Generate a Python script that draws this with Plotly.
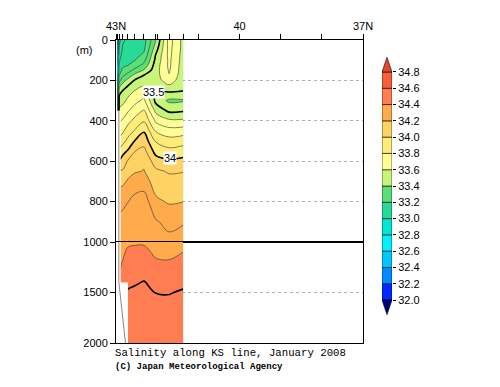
import plotly.graph_objects as go

# ---------------- data ----------------
station_lat = [42.97, 42.92, 42.84, 42.71, 42.54, 42.32, 42.03, 41.71, 41.37]
depths = [0, 25, 50, 75, 100, 125, 150, 175, 200, 250, 300, 350, 400, 450, 500,
          550, 600, 650, 700, 800, 900, 1000, 1100, 1200, 1300, 1400, 1500, 1600, 1800, 2000]

sal_st1 = [32.50, 32.60, 32.70, 32.80, 32.88, 32.90, 32.92, 32.94, 32.95, 32.97, 33.00, 33.10, 33.60, 33.70, 33.80,
           33.90, 34.01, 34.08, 34.15, 34.25, 34.32, 34.37, 34.39, 34.41, 34.43, 34.45, 34.48, 34.51, 34.52, 34.54]
sal_st2 = [32.95, 33.00, 33.03, 33.06, 33.09, 33.12, 33.15, 33.20, 33.27, 33.45, 33.55, 33.62, 33.69, 33.76, 33.83,
           33.92, 34.01, 34.11, 34.17, 34.26, 34.33, 34.37, 34.38, 34.39, 34.398, 34.41, 34.46, 34.51, 34.52, 34.54]
sal_st3 = [33.08, 33.10, 33.11, 33.13, 33.15, 33.18, 33.22, 33.28, 33.36, 33.498, 33.57, 33.64, 33.71, 33.78, 33.86,
           33.97, 34.04, 34.11, 34.18, 34.27, 34.34, 34.38, 34.39, 34.402, 34.42, 34.44, 34.48, 34.51, 34.52, 34.54]
sal_st4 = [33.12, 33.13, 33.14, 33.15, 33.17, 33.20, 33.26, 33.34, 33.43, 33.56, 33.62, 33.69, 33.77, 33.85, 33.93,
           34.01, 34.11, 34.17, 34.21, 34.298, 34.35, 34.39, 34.41, 34.43, 34.45, 34.48, 34.51, 34.52, 34.54, 34.55]
sal_st5 = [33.14, 33.19, 33.20, 33.17, 33.20, 33.25, 33.33, 33.43, 33.51, 33.60, 33.67, 33.75, 33.83, 33.91, 34.005,
           34.098, 34.15, 34.19, 34.25, 34.33, 34.36, 34.39, 34.42, 34.44, 34.46, 34.49, 34.52, 34.53, 34.54, 34.55]
sal_st6 = [33.16, 33.17, 33.19, 33.22, 33.27, 33.33, 33.41, 33.505, 33.55, 33.64, 33.72, 33.81, 33.89, 33.99, 34.06,
           34.13, 34.18, 34.205, 34.25, 34.35, 34.37, 34.39, 34.42, 34.44, 34.47, 34.505, 34.52, 34.53, 34.54, 34.55]
sal_st7 = [33.40, 33.43, 33.47, 33.51, 33.53, 33.55, 33.56, 33.56, 33.55, 33.505, 33.47, 33.57, 33.68, 33.79, 33.89,
           33.96, 34.05, 34.12, 34.15, 34.22, 34.31, 34.35, 34.385, 34.41, 34.44, 34.47, 34.498, 34.52, 34.54, 34.55]
sal_st8 = [33.74, 33.74, 33.73, 33.73, 33.72, 33.72, 33.71, 33.695, 33.66, 33.52, 33.38, 33.48, 33.62, 33.74, 33.84,
           33.93, 34.02, 34.09, 34.13, 34.19, 34.27, 34.33, 34.37, 34.41, 34.44, 34.47, 34.495, 34.52, 34.54, 34.55]
sal_st9 = [33.57, 33.57, 33.57, 33.56, 33.56, 33.55, 33.55, 33.54, 33.53, 33.505, 33.39, 33.49, 33.62, 33.75, 33.86,
           33.95, 34.03, 34.095, 34.14, 34.198, 34.29, 34.35, 34.401, 34.43, 34.45, 34.48, 34.51, 34.53, 34.54, 34.55]
profiles = [sal_st1, sal_st2, sal_st3, sal_st4, sal_st5, sal_st6, sal_st7, sal_st8, sal_st9]

# colour levels of the key
levels = [32.0, 32.2, 32.4, 32.6, 32.8, 33.0, 33.2, 33.4, 33.6, 33.8, 34.0, 34.2, 34.4, 34.6, 34.8]
band_colors = ['#0028ff', '#008cff', '#00c8ff', '#00f0ff', '#00e6d2', '#28da98', '#5ade78',
               '#c8f578', '#ffff96', '#ffeb78', '#ffd264', '#ffaa4b', '#ff7d50', '#fa5f3c']
under_color = '#000078'
over_color = '#e6462d'
thick_levels = [33.5, 34.0, 34.5]
contour_labels = ['33.5', '34']
label_lat = [42.10, 41.69]
label_depth = [257, 585]

# bottom topography / no-data area
mask_top_lat = [43.0, 42.886, 42.886, 43.0]
mask_top_depth = [350, 350, 1000, 1000]
mask_bot_lat = [43.0, 42.886, 42.886, 42.709, 42.709, 43.0]
mask_bot_depth = [1000, 1000, 1400, 1400, 2000, 2000]
topo_top_lat = [42.93, 42.93]
topo_top_depth = [350, 1000]
topo_bot_lat = [42.93, 42.93, 42.77]
topo_bot_depth = [1000, 1400, 2000]

lat_ticks = [43, 42, 41, 40, 39, 38, 37]
lat_ticktext = ['43N', '', '', '40', '', '', '37N']

# ---------------- figure ----------------
W, H = 500, 387
def px_x(p):
    return p / W
def px_y(p):
    return 1 - p / H

z_all = [[profiles[j][i] for j in range(len(station_lat))] for i in range(len(depths))]
top_idx = [i for i, d in enumerate(depths) if d <= 1000]
bot_idx = [i for i, d in enumerate(depths) if d >= 1000]
d_top = [depths[i] for i in top_idx]
d_bot = [depths[i] for i in bot_idx]
z_top = [z_all[i] for i in top_idx]
z_bot = [z_all[i] for i in bot_idx]

# stepwise colourscale (plotly maps fill colours from start-size/2 to end+size/2)
c_lo, c_hi = 31.95, 34.85
def pos(v):
    return (v - c_lo) / (c_hi - c_lo)
cs = [[0.0, under_color], [pos(levels[0]), under_color]]
for k, col in enumerate(band_colors):
    cs.append([pos(levels[k]), col])
    cs.append([pos(levels[k + 1]), col])
cs.append([pos(levels[-1]), over_color])
cs.append([1.0, over_color])

fig = go.Figure()

for xa, ya, dd, zz in [('x', 'y', d_top, z_top), ('x2', 'y2', d_bot, z_bot)]:
    fig.add_trace(go.Contour(
        x=station_lat, y=dd, z=zz, xaxis=xa, yaxis=ya,
        colorscale=cs, showscale=False, hoverinfo='skip',
        contours=dict(start=levels[0], end=levels[-1], size=0.1, coloring='fill', showlines=True),
        line=dict(color='#303030', width=0.6)))
    fig.add_trace(go.Contour(
        x=station_lat, y=dd, z=zz, xaxis=xa, yaxis=ya,
        showscale=False, hoverinfo='skip',
        contours=dict(start=thick_levels[0], end=thick_levels[-1], size=0.5, coloring='none'),
        line=dict(color='black', width=1.6)))

fig.add_trace(go.Scatter(x=mask_top_lat, y=mask_top_depth, xaxis='x', yaxis='y', fill='toself',
                         fillcolor='white', line=dict(width=0), mode='lines', hoverinfo='skip'))
fig.add_trace(go.Scatter(x=mask_bot_lat, y=mask_bot_depth, xaxis='x2', yaxis='y2', fill='toself',
                         fillcolor='white', line=dict(width=0), mode='lines', hoverinfo='skip'))
fig.add_trace(go.Scatter(x=topo_top_lat, y=topo_top_depth, xaxis='x', yaxis='y', mode='lines',
                         line=dict(color='#888888', width=1), hoverinfo='skip'))
fig.add_trace(go.Scatter(x=topo_bot_lat, y=topo_bot_depth, xaxis='x2', yaxis='y2', mode='lines',
                         line=dict(color='#888888', width=1), hoverinfo='skip'))

# colour key
nb = len(band_colors)
fig.add_trace(go.Bar(x=[0] * nb, y=[levels[k + 1] - levels[k] for k in range(nb)], base=levels[:-1],
                     width=1, marker=dict(color=band_colors, line=dict(color='black', width=0.6)),
                     xaxis='x3', yaxis='y3', hoverinfo='skip'))
fig.add_trace(go.Scatter(x=[-0.5, 0.5, 0, -0.5], y=[levels[-1], levels[-1], levels[-1] + 0.18, levels[-1]],
                         fill='toself', fillcolor=over_color, mode='lines', line=dict(color='black', width=0.6),
                         xaxis='x3', yaxis='y3', hoverinfo='skip'))
fig.add_trace(go.Scatter(x=[-0.5, 0.5, 0, -0.5], y=[levels[0], levels[0], levels[0] - 0.18, levels[0]],
                         fill='toself', fillcolor=under_color, mode='lines', line=dict(color='black', width=0.6),
                         xaxis='x3', yaxis='y3', hoverinfo='skip'))

axis_common = dict(showline=True, linecolor='black', linewidth=1, mirror=True, zeroline=False,
                   ticks='outside', ticklen=5, tickcolor='black', tickwidth=1)
xdom = [px_x(116), px_x(363)]
fig.update_layout(
    width=W, height=H, margin=dict(l=0, r=0, t=0, b=0),
    paper_bgcolor='white', plot_bgcolor='white', showlegend=False, barmode='overlay',
    font=dict(family='Liberation Sans, Arial, sans-serif', size=11, color='black'),
    xaxis=dict(domain=xdom, range=[43, 37], side='top', anchor='y',
               tickvals=lat_ticks + station_lat, ticktext=lat_ticktext + [''] * len(station_lat),
               showgrid=False, automargin=False, **axis_common),
    xaxis2=dict(domain=xdom, range=[43, 37], anchor='y2', matches='x', showticklabels=False,
                showgrid=False, automargin=False,
                **{**axis_common, 'ticks': ''}),
    yaxis=dict(domain=[px_y(242), px_y(40)], range=[1000, 0], anchor='x',
               tickvals=[0, 200, 400, 600, 800, 1000], showgrid=True, gridcolor='#b0b0b0',
               griddash='dot', gridwidth=1, automargin=False, **axis_common),
    yaxis2=dict(domain=[px_y(343), px_y(242)], range=[2000, 1000], anchor='x2',
                tickvals=[1500, 2000], showgrid=True, gridcolor='#b0b0b0',
                griddash='dot', gridwidth=1, automargin=False, **axis_common),
    xaxis3=dict(domain=[px_x(382), px_x(392)], range=[-0.5, 0.5], anchor='y3', visible=False),
    yaxis3=dict(domain=[px_y(316.3), px_y(55.7)], range=[levels[0] - 0.2, levels[-1] + 0.2], anchor='x3',
                side='right', tickvals=levels, ticktext=['%.1f' % v for v in levels],
                ticks='outside', ticklen=3, tickcolor='black', showgrid=False, zeroline=False,
                showline=False, automargin=False),
)

annotations = []
for t, la, de in zip(contour_labels, label_lat, label_depth):
    annotations.append(dict(x=la, y=de, xref='x', yref='y', text=t, showarrow=False,
                            bgcolor='white', borderpad=0, font=dict(size=11, color='black')))
annotations.append(dict(x=px_x(74), y=px_y(42), xref='paper', yref='paper', text='(m)', showarrow=False,
                        font=dict(size=11)))
annotations.append(dict(x=px_x(113), y=px_y(353), xref='paper', yref='paper', xanchor='left', yanchor='middle',
                        text='Salinity along KS line, January 2008', showarrow=False,
                        font=dict(family='Liberation Mono, monospace', size=10.7)))
annotations.append(dict(x=px_x(113), y=px_y(367), xref='paper', yref='paper', xanchor='left', yanchor='middle',
                        text='<b>(C) Japan Meteorological Agency</b>', showarrow=False,
                        font=dict(family='Liberation Mono, monospace', size=9)))
fig.update_layout(annotations=annotations)

fig.write_html("out.html", config={'displayModeBar': False},
               post_script="document.body.style.margin='0';document.body.style.overflow='hidden';")
